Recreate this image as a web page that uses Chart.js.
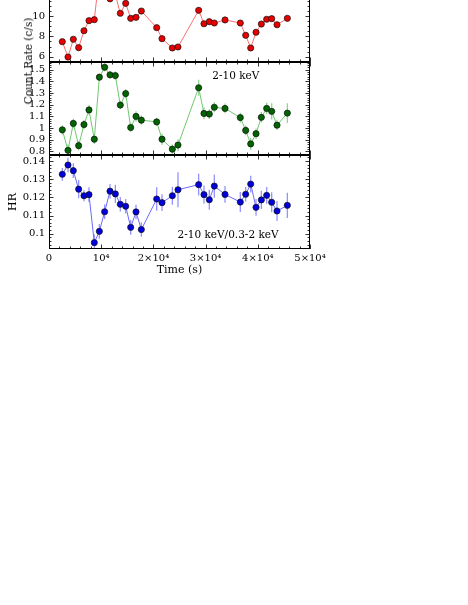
<!DOCTYPE html>
<html>
<head>
<meta charset="utf-8">
<script src="https://cdn.jsdelivr.net/npm/chart.js@4.4.0/dist/chart.umd.min.js"></script>
<style>
    body { margin: 0; background: #fff; width: 468px; height: 605px; overflow: hidden; position: relative; }
    canvas { position: absolute; left: 0; }
    #etiqueta-tasa {
        position: absolute; left: 28px; top: 61px; white-space: nowrap;
        font: 10.5px 'DejaVu Serif', serif; color: #000;
        transform: translate(-50%, -50%) rotate(-90deg);
    }
</style>
</head>
<body>
<canvas id="grafico-1" width="330" height="110" style="top:-40px"></canvas>
<canvas id="grafico-2" width="330" height="109" style="top:54px"></canvas>
<canvas id="grafico-3" width="330" height="138" style="top:147px"></canvas>
<div id="etiqueta-tasa">Count Rate (c/s)</div>
<script>
//Datos: tiempo (s) de cada bin
var tiempos = [2550, 3640, 4660, 5680, 6700, 7660, 8680, 9650, 10660, 11690, 12710, 13660,
    14690, 15650, 16670, 17690, 20630, 21650, 23630, 24710, 28670, 29690, 30710, 31670,
    33720, 36650, 37680, 38640, 39660, 40680, 41700, 42660, 43680, 45660];

//Tasa total (c/s)
var tasaTotal = [7.48, 5.97, 7.72, 6.89, 8.56, 9.55, 9.65, 14.1, 13.6, 11.7, 12.1, 10.28,
    11.26, 9.78, 9.88, 10.5, 8.86, 7.78, 6.86, 6.96, 10.57, 9.25, 9.45, 9.32,
    9.62, 9.32, 8.11, 6.86, 8.41, 9.22, 9.69, 9.75, 9.15, 9.78];

//Tasa 2-10 keV y su error
var tasaDura = [0.985, 0.81, 1.04, 0.85, 1.03, 1.155, 0.905, 1.435, 1.52, 1.455, 1.449, 1.197,
    1.295, 1.005, 1.10, 1.068, 1.053, 0.905, 0.82, 0.855, 1.345, 1.125, 1.12, 1.178,
    1.168, 1.09, 0.98, 0.865, 0.952, 1.092, 1.168, 1.143, 1.025, 1.128];
var errorDura = [0.04, 0.05, 0.04, 0.04, 0.04, 0.04, 0.04, 0.03, 0.035, 0.033, 0.035, 0.035,
    0.04, 0.04, 0.045, 0.04, 0.035, 0.047, 0.04, 0.05, 0.068, 0.05, 0.042, 0.042,
    0.042, 0.042, 0.042, 0.05, 0.045, 0.045, 0.05, 0.07, 0.042, 0.085];

//Cociente de dureza HR y su error
var cocienteHR = [0.1327, 0.1378, 0.1347, 0.1245, 0.1209, 0.1215, 0.0951, 0.1013, 0.1121, 0.1234,
    0.1219, 0.1162, 0.1151, 0.1035, 0.112, 0.1023, 0.1191, 0.1171, 0.1209, 0.1242, 0.127,
    0.1215, 0.1187, 0.1262, 0.1216, 0.1174, 0.1217, 0.1273, 0.1145, 0.1186, 0.1211,
    0.1173, 0.1125, 0.1156];
var errorHR = [0.0035, 0.004, 0.004, 0.005, 0.003, 0.004, 0.0045, 0.004, 0.004, 0.004,
    0.005, 0.004, 0.004, 0.004, 0.004, 0.004, 0.0064, 0.0046, 0.005, 0.0096, 0.006,
    0.005, 0.0055, 0.0064, 0.0046, 0.0055, 0.004, 0.0046, 0.0046, 0.005, 0.0046,
    0.0055, 0.0055, 0.0069];

var ticksTiempo = [0, 10000, 20000, 30000, 40000, 50000];
var textosTiempo = ['0', '10\u2074', '2\u00d710\u2074', '3\u00d710\u2074', '4\u00d710\u2074', '5\u00d710\u2074'];

Chart.defaults.font.family = "'DejaVu Serif', serif";
Chart.defaults.font.size = 10;
Chart.defaults.color = '#000';

//Plugin: marco con ticks hacia adentro, barras de error y texto interno
var marcoEjes = {
    id: 'marcoEjes',
    beforeDatasetsDraw: function (chart, args, op) {
        if (!op.errores) return;
        var ctx = chart.ctx;
        var sx = chart.scales.x, sy = chart.scales.y;
        var datos = chart.data.datasets[0].data;
        ctx.save();
        ctx.beginPath();
        ctx.rect(chart.chartArea.left, chart.chartArea.top, chart.chartArea.width, chart.chartArea.height);
        ctx.clip();
        ctx.strokeStyle = op.colorError;
        ctx.lineWidth = 1.3;
        for (var i = 0; i < datos.length; i++) {
            var px = sx.getPixelForValue(datos[i].x);
            ctx.beginPath();
            ctx.moveTo(px, sy.getPixelForValue(datos[i].y - op.errores[i]));
            ctx.lineTo(px, sy.getPixelForValue(datos[i].y + op.errores[i]));
            ctx.stroke();
        }
        ctx.restore();
    },
    afterDraw: function (chart, args, op) {
        var ctx = chart.ctx;
        var a = chart.chartArea;
        var sx = chart.scales.x, sy = chart.scales.y;
        ctx.save();
        ctx.strokeStyle = '#000';
        ctx.lineWidth = 1;
        ctx.strokeRect(a.left + 0.5, a.top + 0.5, a.width - 1, a.height - 1);
        ctx.lineWidth = 0.8;

        function linea(x1, y1, x2, y2) {
            ctx.beginPath();
            ctx.moveTo(x1, y1);
            ctx.lineTo(x2, y2);
            ctx.stroke();
        }

        //ticks del eje x (arriba y abajo)
        var inicio = Math.ceil(sx.min / op.xMenor - 1e-6);
        for (var i = inicio; i * op.xMenor <= sx.max + 1e-6; i++) {
            var v = i * op.xMenor;
            var mayor = Math.abs(v / op.xMayor - Math.round(v / op.xMayor)) < 1e-6;
            var largo = mayor ? 4.5 : 2.5;
            var px = Math.round(sx.getPixelForValue(v)) + 0.5;
            linea(px, a.bottom, px, a.bottom - largo);
            linea(px, a.top, px, a.top + largo);
        }

        //ticks del eje y (izquierda y derecha)
        inicio = Math.ceil(sy.min / op.yMenor - 1e-6);
        for (var j = inicio; j * op.yMenor <= sy.max + 1e-9; j++) {
            var w = j * op.yMenor;
            var mayorY = Math.abs(w / op.yMayor - Math.round(w / op.yMayor)) < 1e-6;
            var largoY = mayorY ? 4.5 : 2.5;
            var py = Math.round(sy.getPixelForValue(w)) + 0.5;
            linea(a.left, py, a.left + largoY, py);
            linea(a.right, py, a.right - largoY, py);
        }

        if (op.texto) {
            ctx.fillStyle = '#000';
            ctx.font = "10.5px 'DejaVu Serif', serif";
            ctx.textAlign = 'center';
            ctx.textBaseline = 'middle';
            ctx.fillText(op.texto, sx.getPixelForValue(op.textoX), sy.getPixelForValue(op.textoY));
        }
        ctx.restore();
    }
};

function formatoCorto(v) {
    return String(+v.toFixed(3));
}

function ejeY(min, max, paso, titulo) {
    var eje = {
        min: min,
        max: max,
        grid: { display: false, drawTicks: false },
        border: { display: false },
        ticks: { stepSize: paso, padding: 4, includeBounds: false, autoSkip: false, callback: formatoCorto },
        afterFit: function (escala) {
            escala.width = 49;
            escala.paddingTop = 0;
            escala.paddingBottom = 0;
        }
    };
    if (titulo) {
        eje.title = { display: true, text: titulo, font: { size: 11 }, padding: { top: 6.4, bottom: 0 } };
    }
    return eje;
}

function ejeX(visible) {
    return {
        type: 'linear',
        min: 0,
        max: 50000,
        display: visible,
        grid: { display: false, drawTicks: false },
        border: { display: false },
        afterBuildTicks: function (escala) {
            escala.ticks = ticksTiempo.map(function (t) { return { value: t }; });
        },
        ticks: {
            padding: 3,
            maxRotation: 0,
            autoSkip: false,
            callback: function (v) {
                var k = ticksTiempo.indexOf(v);
                return k >= 0 ? textosTiempo[k] : '';
            }
        },
        title: { display: visible, text: 'Time (s)', font: { size: 11 }, padding: { top: 0, bottom: 8.4 } },
        afterFit: function (escala) {
            //el eje oculto no debe ocupar alto
            escala.height = visible ? 36 : 0;
            escala.paddingLeft = 0;
            escala.paddingRight = 0;
        }
    };
}

function crearPanel(id, valores, colorPunto, colorLinea, ejeVertical, visibleX, extra) {
    var ctx = document.getElementById(id).getContext('2d');
    var puntos = tiempos.map(function (t, i) { return { x: t, y: valores[i] }; });
    return new Chart(ctx, {
        type: 'line',
        data: {
            datasets: [{
                data: puntos,
                borderColor: colorLinea,
                borderWidth: 1,
                pointRadius: 3.1,
                pointBackgroundColor: colorPunto,
                pointBorderColor: '#111',
                pointBorderWidth: 0.7,
                tension: 0
            }]
        },
        options: {
            responsive: false,
            animation: false,
            layout: { padding: { top: 8, bottom: visibleX ? 0 : 8, left: 0, right: 20 } },
            plugins: {
                legend: { display: false },
                tooltip: { enabled: false },
                marcoEjes: extra
            },
            scales: {
                x: ejeX(visibleX),
                y: ejeVertical
            }
        },
        plugins: [marcoEjes]
    });
}

crearPanel('grafico-1', tasaTotal, '#e60000', '#ff7070',
    ejeY(5.48, 14.74, 2, null), false,
    { xMayor: 10000, xMenor: 2000, yMayor: 2, yMenor: 0.5 });

crearPanel('grafico-2', tasaDura, '#006400', '#6fc86f',
    ejeY(0.77, 1.565, 0.1, null), false,
    { xMayor: 10000, xMenor: 2000, yMayor: 0.1, yMenor: 0.02,
      errores: errorDura, colorError: 'rgba(120, 200, 120, 0.8)',
      texto: '2-10 keV', textoX: 35800, textoY: 1.44 });

crearPanel('grafico-3', cocienteHR, '#0000dd', '#6a6aff',
    ejeY(0.0916, 0.1433, 0.01, 'HR'), true,
    { xMayor: 10000, xMenor: 2000, yMayor: 0.01, yMenor: 0.002,
      errores: errorHR, colorError: 'rgba(120, 120, 255, 0.8)',
      texto: '2-10 keV/0.3-2 keV', textoX: 34300, textoY: 0.0993 });
</script>
</body>
</html>
